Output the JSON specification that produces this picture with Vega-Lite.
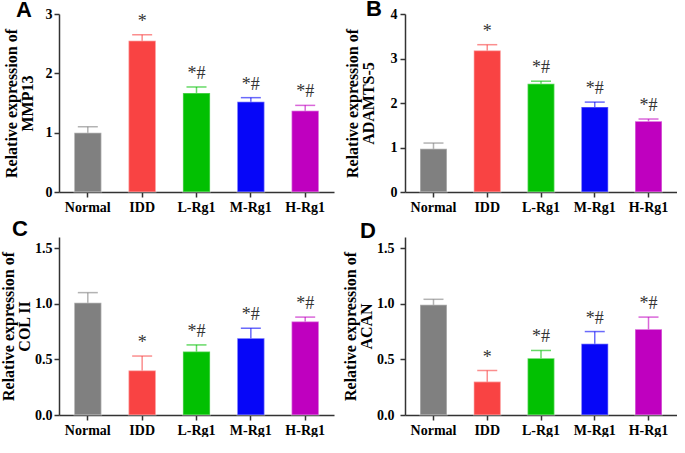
{
  "$schema": "https://vega.github.io/schema/vega-lite/v6.json",
  "padding": {"left": 0, "top": -2, "right": 0, "bottom": 0},
  "background": "white",
  "datasets": {
    "d": [
      {"panel": "A", "group": "Normal", "value": 1.00, "upper": 1.10, "label": ""},
      {"panel": "A", "group": "IDD", "value": 2.55, "upper": 2.65, "label": "*"},
      {"panel": "A", "group": "L-Rg1", "value": 1.67, "upper": 1.77, "label": "*#"},
      {"panel": "A", "group": "M-Rg1", "value": 1.52, "upper": 1.59, "label": "*#"},
      {"panel": "A", "group": "H-Rg1", "value": 1.37, "upper": 1.46, "label": "*#"},
      {"panel": "B", "group": "Normal", "value": 0.97, "upper": 1.10, "label": ""},
      {"panel": "B", "group": "IDD", "value": 3.18, "upper": 3.31, "label": "*"},
      {"panel": "B", "group": "L-Rg1", "value": 2.43, "upper": 2.49, "label": "*#"},
      {"panel": "B", "group": "M-Rg1", "value": 1.91, "upper": 2.02, "label": "*#"},
      {"panel": "B", "group": "H-Rg1", "value": 1.59, "upper": 1.64, "label": "*#"},
      {"panel": "C", "group": "Normal", "value": 1.01, "upper": 1.10, "label": ""},
      {"panel": "C", "group": "IDD", "value": 0.40, "upper": 0.53, "label": "*"},
      {"panel": "C", "group": "L-Rg1", "value": 0.57, "upper": 0.63, "label": "*#"},
      {"panel": "C", "group": "M-Rg1", "value": 0.69, "upper": 0.78, "label": "*#"},
      {"panel": "C", "group": "H-Rg1", "value": 0.84, "upper": 0.88, "label": "*#"},
      {"panel": "D", "group": "Normal", "value": 0.99, "upper": 1.04, "label": ""},
      {"panel": "D", "group": "IDD", "value": 0.30, "upper": 0.40, "label": "*"},
      {"panel": "D", "group": "L-Rg1", "value": 0.51, "upper": 0.58, "label": "*#"},
      {"panel": "D", "group": "M-Rg1", "value": 0.64, "upper": 0.75, "label": "*#"},
      {"panel": "D", "group": "H-Rg1", "value": 0.77, "upper": 0.88, "label": "*#"}
    ]
  },
  "columns": 2,
  "spacing": {"column": 8, "row": 4},
  "resolve": {"scale": {"x": "independent", "y": "independent"}, "axis": {"x": "independent", "y": "independent"}},
  "concat": [
    {
      "data": {"name": "d"},
      "transform": [{"filter": "datum.panel == 'A'"}],
      "title": {"text": "A", "anchor": "start", "frame": "group", "dx": -43, "dy": 32, "offset": 0, "baseline": "alphabetic"},
      "width": 275, "height": 178,
      "encoding": {
        "x": {"field": "group", "type": "nominal", "sort": ["Normal", "IDD", "L-Rg1", "M-Rg1", "H-Rg1"], "scale": {"paddingInner": 0.5, "paddingOuter": 0.28}, "axis": {"title": null}},
        "color": {"field": "group", "type": "nominal", "scale": {"domain": ["Normal", "IDD", "L-Rg1", "M-Rg1", "H-Rg1"], "range": ["#808080", "#f94343", "#02c002", "#0606f8", "#bf00bf"]}, "legend": null}
      },
      "layer": [
        {"mark": {"type": "bar", "stroke": "white", "strokeOpacity": 0.35, "strokeWidth": 1.5},
         "encoding": {"y": {"field": "value", "type": "quantitative", "scale": {"domain": [0, 3]}, "axis": {"title": ["Relative expression of", "MMP13"], "values": [0, 1, 2, 3], "format": "d", "titlePadding": 10, "labelPadding": 2}}}},
        {"mark": {"type": "rule", "opacity": 0.6, "strokeWidth": 1.5},
         "encoding": {"y": {"field": "value", "type": "quantitative"}, "y2": {"field": "upper"}}},
        {"mark": {"type": "tick", "size": 20, "thickness": 1.5, "opacity": 0.6},
         "encoding": {"y": {"field": "upper", "type": "quantitative"}}},
        {"mark": {"type": "text", "baseline": "alphabetic", "dy": -8, "font": "Liberation Serif", "fontSize": 18},
         "encoding": {"y": {"field": "upper", "type": "quantitative"}, "text": {"field": "label"}, "color": {"value": "#333"}}}
      ]
    },
    {
      "data": {"name": "d"},
      "transform": [{"filter": "datum.panel == 'B'"}],
      "title": {"text": "B", "anchor": "start", "frame": "group", "dx": -39, "dy": 31, "offset": 0, "baseline": "alphabetic"},
      "width": 272, "height": 178,
      "encoding": {
        "x": {"field": "group", "type": "nominal", "sort": ["Normal", "IDD", "L-Rg1", "M-Rg1", "H-Rg1"], "scale": {"paddingInner": 0.5, "paddingOuter": 0.28}, "axis": {"title": null}},
        "color": {"field": "group", "type": "nominal", "legend": null}
      },
      "layer": [
        {"mark": {"type": "bar", "stroke": "white", "strokeOpacity": 0.35, "strokeWidth": 1.5},
         "encoding": {"y": {"field": "value", "type": "quantitative", "scale": {"domain": [0, 4]}, "axis": {"title": ["Relative expression of", "ADAMTS-5"], "values": [0, 1, 2, 3, 4], "format": "d", "titlePadding": 14, "labelPadding": 3}}}},
        {"mark": {"type": "rule", "opacity": 0.6, "strokeWidth": 1.5},
         "encoding": {"y": {"field": "value", "type": "quantitative"}, "y2": {"field": "upper"}}},
        {"mark": {"type": "tick", "size": 20, "thickness": 1.5, "opacity": 0.6},
         "encoding": {"y": {"field": "upper", "type": "quantitative"}}},
        {"mark": {"type": "text", "baseline": "alphabetic", "dy": -8, "font": "Liberation Serif", "fontSize": 18},
         "encoding": {"y": {"field": "upper", "type": "quantitative"}, "text": {"field": "label"}, "color": {"value": "#333"}}}
      ]
    },
    {
      "data": {"name": "d"},
      "transform": [{"filter": "datum.panel == 'C'"}],
      "title": {"text": "C", "anchor": "start", "frame": "group", "dx": -47, "dy": 21, "offset": 0, "baseline": "alphabetic"},
      "width": 275, "height": 178,
      "encoding": {
        "x": {"field": "group", "type": "nominal", "sort": ["Normal", "IDD", "L-Rg1", "M-Rg1", "H-Rg1"], "scale": {"paddingInner": 0.5, "paddingOuter": 0.28}, "axis": {"title": null}},
        "color": {"field": "group", "type": "nominal", "legend": null}
      },
      "layer": [
        {"mark": {"type": "bar", "stroke": "white", "strokeOpacity": 0.35, "strokeWidth": 1.5},
         "encoding": {"y": {"field": "value", "type": "quantitative", "scale": {"domain": [0, 1.5]}, "axis": {"title": ["Relative expression of", "COL II"], "values": [0, 0.5, 1, 1.5], "format": ".1f", "titlePadding": 2, "labelPadding": 2}}}},
        {"mark": {"type": "rule", "opacity": 0.6, "strokeWidth": 1.5},
         "encoding": {"y": {"field": "value", "type": "quantitative"}, "y2": {"field": "upper"}}},
        {"mark": {"type": "tick", "size": 20, "thickness": 1.5, "opacity": 0.6},
         "encoding": {"y": {"field": "upper", "type": "quantitative"}}},
        {"mark": {"type": "text", "baseline": "alphabetic", "dy": -8, "font": "Liberation Serif", "fontSize": 18},
         "encoding": {"y": {"field": "upper", "type": "quantitative"}, "text": {"field": "label"}, "color": {"value": "#333"}}}
      ]
    },
    {
      "data": {"name": "d"},
      "transform": [{"filter": "datum.panel == 'D'"}],
      "title": {"text": "D", "anchor": "start", "frame": "group", "dx": -45, "dy": 23, "offset": 0, "baseline": "alphabetic"},
      "width": 272, "height": 178,
      "encoding": {
        "x": {"field": "group", "type": "nominal", "sort": ["Normal", "IDD", "L-Rg1", "M-Rg1", "H-Rg1"], "scale": {"paddingInner": 0.5, "paddingOuter": 0.28}, "axis": {"title": null}},
        "color": {"field": "group", "type": "nominal", "legend": null}
      },
      "layer": [
        {"mark": {"type": "bar", "stroke": "white", "strokeOpacity": 0.35, "strokeWidth": 1.5},
         "encoding": {"y": {"field": "value", "type": "quantitative", "scale": {"domain": [0, 1.5]}, "axis": {"title": ["Relative expression of", "ACAN"], "values": [0, 0.5, 1, 1.5], "format": ".1f", "titlePadding": 2, "labelPadding": 6}}}},
        {"mark": {"type": "rule", "opacity": 0.6, "strokeWidth": 1.5},
         "encoding": {"y": {"field": "value", "type": "quantitative"}, "y2": {"field": "upper"}}},
        {"mark": {"type": "tick", "size": 20, "thickness": 1.5, "opacity": 0.6},
         "encoding": {"y": {"field": "upper", "type": "quantitative"}}},
        {"mark": {"type": "text", "baseline": "alphabetic", "dy": -8, "font": "Liberation Serif", "fontSize": 18},
         "encoding": {"y": {"field": "upper", "type": "quantitative"}, "text": {"field": "label"}, "color": {"value": "#333"}}}
      ]
    }
  ],
  "config": {
    "view": {"stroke": null},
    "title": {"font": "Liberation Sans", "fontSize": 22, "fontWeight": "bold", "color": "black"},
    "axis": {"labelFont": "Liberation Serif", "labelFontWeight": "bold", "labelFontSize": 14, "labelColor": "black", "titleFont": "Liberation Serif", "titleFontWeight": "bold", "titleFontSize": 16, "titleColor": "black", "titleLineHeight": 16, "domainColor": "#333", "tickColor": "#333", "domainWidth": 1.5, "tickWidth": 1.5, "grid": false, "tickSize": 5},
    "axisX": {"labelAngle": 0, "labelPadding": 3}
  }
}
